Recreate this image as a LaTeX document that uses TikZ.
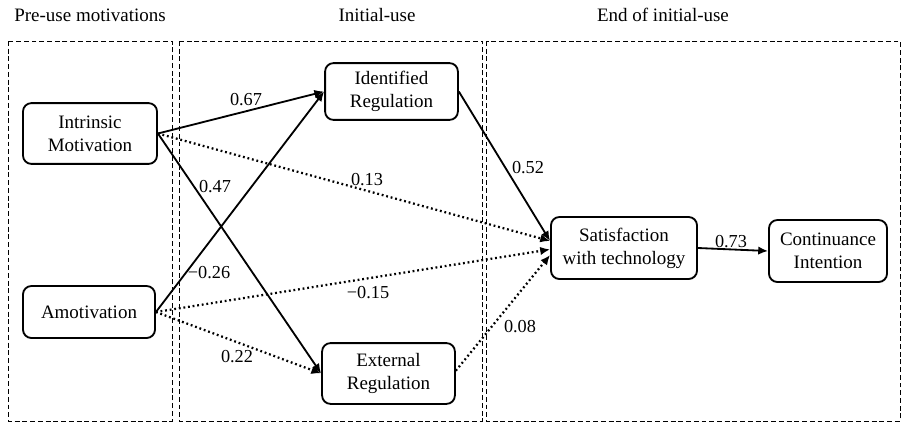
\documentclass[tikz,border=0pt]{standalone}
\usepackage{fontspec}
\setmainfont{Liberation Serif}
\usetikzlibrary{arrows.meta}

\tikzset{
  construct/.style={draw, line width=1.3pt, rounded corners=6pt, align=center,
    font=\fontsize{13.5}{16.4}\selectfont, inner sep=2pt},
  phase/.style={draw, line width=0.7pt, dash pattern=on 3.5pt off 2pt},
  path/.style={line width=1.3pt, -{Latex[length=7pt,width=6pt]}},
  weak/.style={path, dotted, line width=1.6pt},
  coef/.style={font=\fontsize{13}{15}\selectfont, inner sep=1pt},
  title/.style={font=\fontsize{13.5}{15}\selectfont}
}

\begin{document}
\begin{tikzpicture}[x=0.025cm, y=-0.025cm]
  \useasboundingbox (0,0) rectangle (902,423);
  % phases
  \draw[phase] (8,41) rectangle (172,421);
  \draw[phase] (179,41) rectangle (482,421);
  \draw[phase] (486,41) rectangle (900,421);
  \node[title] (t1) at (90,15) {Pre-use motivations};
  \node[title] (t2) at (377,15) {Initial-use};
  \node[title] (t3) at (663,15) {End of initial-use};

  % constructs
  \node[construct, minimum width=3.35cm, minimum height=1.52cm] (im) at (90,133.5) {Intrinsic\\Motivation};
  \node[construct, minimum width=3.3cm, minimum height=1.3cm] (am) at (89,312) {Amotivation};
  \node[construct, minimum width=3.32cm, minimum height=1.42cm] (idr) at (391.5,91.5) {Identified\\Regulation};
  \node[construct, minimum width=3.32cm, minimum height=1.52cm] (exr) at (388.5,373.5) {External\\Regulation};
  \node[construct, minimum width=3.65cm, minimum height=1.55cm] (sat) at (624,248) {Satisfaction\\with technology};
  \node[construct, minimum width=2.95cm, minimum height=1.55cm] (ci) at (828,251) {Continuance\\Intention};

  % end points on satisfaction
  \coordinate (s1) at ([yshift=5pt]sat.west);
  \coordinate (s2) at ([yshift=-1pt]sat.west);
  \coordinate (s3) at ([yshift=-5pt]sat.west);

  % paths
  \draw[path] (im.east) -- (idr.west);
  \draw[path] (im.east) -- (exr.west);
  \draw[weak] (im.east) -- (s1);
  \draw[path] (am.east) -- (idr.west);
  \draw[weak] (am.east) -- (s2);
  \draw[weak] (am.east) -- (exr.west);
  \draw[path] (idr.east) -- (s1);
  \draw[weak] ([yshift=2pt]exr.east) -- (s3);
  \draw[path] (sat.east) -- (ci.west);

  % coefficients
  \node[coef] (c1) at (246,100) {0.67};
  \node[coef] (c2) at (215,187) {0.47};
  \node[coef] (c3) at (367,180) {0.13};
  \node[coef] (c4) at (209,273) {−0.26};
  \node[coef] (c5) at (368,293) {−0.15};
  \node[coef] (c6) at (237,357) {0.22};
  \node[coef] (c7) at (528,168) {0.52};
  \node[coef] (c8) at (520,327) {0.08};
  \node[coef] (c9) at (731,242) {0.73};
\end{tikzpicture}
\end{document}
